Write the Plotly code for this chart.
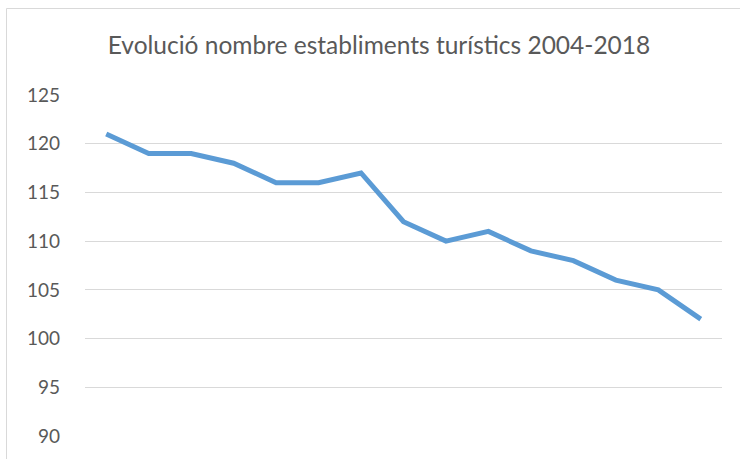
import plotly.graph_objects as go

years = [str(y) for y in range(2004, 2019)]
values = [121, 119, 119, 118, 116, 116, 117, 112, 110, 111, 109, 108, 106, 105, 102]
y_ticks = [90, 95, 100, 105, 110, 115, 120, 125]
title_text = "Evolució nombre establiments turístics 2004-2018"

W, H = 740, 459
L, R, T, B = 85, 722, 95, 436

fig = go.Figure()
fig.add_trace(go.Scatter(
    x=years, y=values, mode="lines",
    line=dict(color="#5B9BD5", width=5),
    hoverinfo="x+y",
))

def px_x(p):
    return (p - L) / (R - L)

def px_y(p):
    return (B - p) / (B - T)

fig.add_shape(type="rect", xref="paper", yref="paper",
              x0=px_x(6.5), x1=px_x(760), y0=px_y(480), y1=px_y(8.5),
              line=dict(color="#D9D9D9", width=1), fillcolor="rgba(0,0,0,0)",
              layer="below")

fig.update_layout(
    width=W, height=H,
    margin=dict(l=L, r=W - R, t=T, b=H - B),
    paper_bgcolor="white", plot_bgcolor="white",
    showlegend=False,
    title=dict(text=title_text, x=379 / W, xanchor="center",
               y=1 - 45 / H, yanchor="middle",
               font=dict(family="Lato", size=24.5, color="#595959")),
    xaxis=dict(type="category", range=[-0.5, 14.5], showticklabels=False,
               showgrid=False, zeroline=False, showline=False, ticks=""),
    yaxis=dict(range=[90, 125], tickvals=y_ticks, showgrid=True,
               gridcolor="#D9D9D9", gridwidth=1, zeroline=False, showline=False,
               ticks="", ticklabelstandoff=24,
               tickfont=dict(family="Lato", size=19, color="#595959")),
)

fig.write_html(
    "out.html",
    config={"displayModeBar": False},
    post_script="document.body.style.margin='0';document.body.style.overflow='hidden';",
)
